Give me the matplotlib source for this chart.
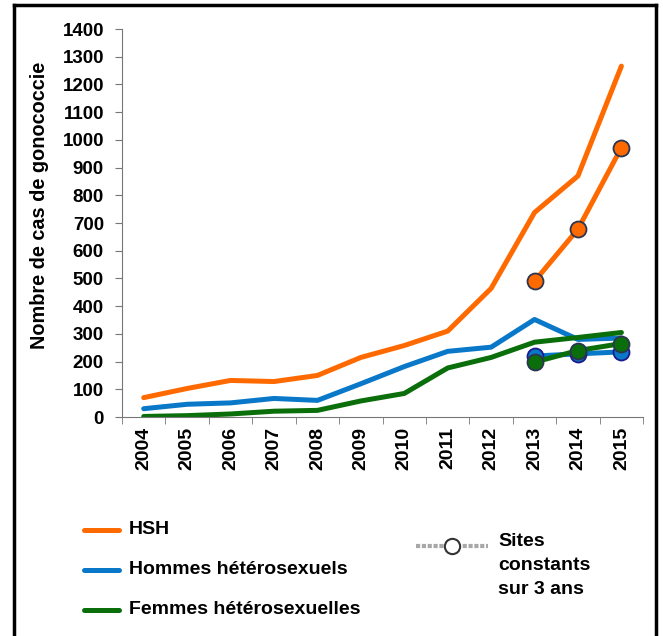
import numpy as np
import matplotlib.pyplot as plt
from matplotlib.lines import Line2D

plt.rcParams['font.family'] = ['Liberation Sans', 'DejaVu Sans']
plt.rcParams['font.weight'] = 'bold'

years = ['2004', '2005', '2006', '2007', '2008', '2009', '2010', '2011', '2012', '2013', '2014', '2015']
hsh = [70, 103, 132, 128, 150, 215, 258, 310, 464, 738, 870, 1266]
hommes = [30, 46, 51, 67, 60, 120, 182, 237, 252, 352, 280, 285]
femmes = [2, 5, 11, 21, 24, 58, 85, 177, 215, 270, 287, 305]

# sites constants sur 3 ans (2013-2015)
sites_years = ['2013', '2014', '2015']
hsh_sites = [490, 678, 972]
hommes_sites = [220, 228, 235]
femmes_sites = [198, 240, 265]

c_hsh = '#ff6a00'
c_hom = '#0a78c8'
c_fem = '#0a6e0a'

fig = plt.figure(figsize=(6.63, 6.36), dpi=100)
ax = fig.add_axes([0.184, 0.3443, 0.786, 0.6101])

x = np.arange(len(years))
xs = np.array([years.index(y) for y in sites_years])

ax.plot(x, hsh, color=c_hsh, lw=3.6, solid_capstyle='round')
ax.plot(x, hommes, color=c_hom, lw=3.6, solid_capstyle='round')
ax.plot(x, femmes, color=c_fem, lw=3.6, solid_capstyle='round')

ax.plot(xs, hsh_sites, color=c_hsh, lw=3.6, marker='o', ms=11.5,
        mfc=c_hsh, mec='#2b3550', mew=1.3)
ax.plot(xs, hommes_sites, color=c_hom, lw=3.6, marker='o', ms=11.5,
        mfc=c_hom, mec='#1a1a8c', mew=1.3)
ax.plot(xs, femmes_sites, color=c_fem, lw=3.6, marker='o', ms=11.5,
        mfc=c_fem, mec='#2b3550', mew=1.3)

ax.set_xlim(-0.5, len(years) - 0.5)
ax.set_ylim(0, 1400)
ax.set_yticks(range(0, 1401, 100))
ax.set_xticks(x)
ax.set_xticklabels(years, rotation=90, fontsize=14, fontweight='bold')
ax.set_xticks(np.arange(-0.5, len(years)), minor=True)
ax.tick_params(axis='x', which='major', length=0, pad=7)
ax.tick_params(axis='x', which='minor', length=5, color='#777777')
ax.tick_params(axis='y', length=5, color='#777777', labelsize=13.5, pad=8)
for lab in ax.get_yticklabels():
    lab.set_fontweight('bold')

for s in ['top', 'right']:
    ax.spines[s].set_visible(False)
ax.spines['left'].set_color('#777777')
ax.spines['bottom'].set_color('#777777')

ax.set_ylabel('Nombre de cas de gonococcie', fontsize=14.3, fontweight='bold')
ax.yaxis.set_label_coords(-0.140, 0.546)

# legend drawn by hand
W, H = 663, 636
def fx(px):
    return px / W
def fy(py):
    return 1 - py / H

entries = [('HSH', c_hsh, 530), ('Hommes hétérosexuels', c_hom, 570),
           ('Femmes hétérosexuelles', c_fem, 610)]
for label, col, py in entries:
    fig.add_artist(Line2D([fx(84), fx(119)], [fy(py), fy(py)], color=col, lw=3.6,
                          solid_capstyle='round'))
    fig.text(fx(129), fy(py), label, fontsize=14, fontweight='bold', va='center', ha='left')

fig.add_artist(Line2D([fx(416), fx(488)], [fy(546), fy(546)], color='#a8a8a8', lw=3,
                      ls=(0, (1, 0.4))))
fig.add_artist(Line2D([fx(452)], [fy(546)], marker='o', ms=11, mfc='white',
                      mec='#333333', mew=1.5, ls='none'))
for txt, py in [('Sites', 542), ('constants', 566), ('sur 3 ans', 590)]:
    fig.text(fx(498), fy(py), txt, fontsize=14, fontweight='bold', va='center', ha='left')

# outer frame
frame_kw = dict(color='black', lw=2.5)
fig.add_artist(Line2D([fx(14), fx(14)], [fy(5), 0], **frame_kw))
fig.add_artist(Line2D([fx(14), fx(656)], [fy(5), fy(5)], **frame_kw))
fig.add_artist(Line2D([fx(656), fx(656)], [fy(5), 0], **frame_kw))

fig.savefig('out.png', dpi=100)
